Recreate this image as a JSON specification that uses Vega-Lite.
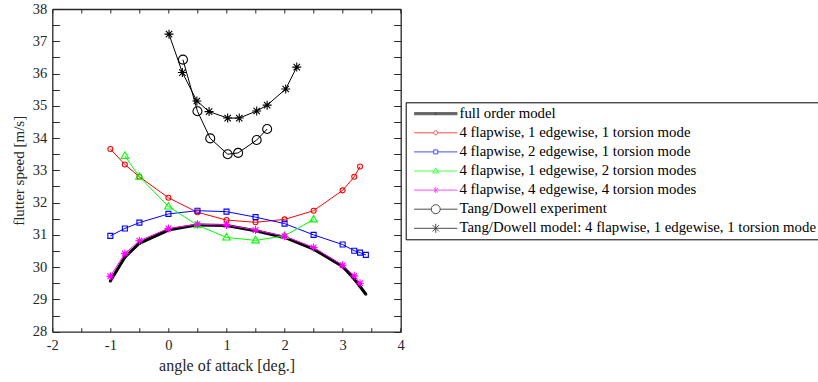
{
  "$schema": "https://vega.github.io/schema/vega-lite/v6.json",
  "width": 348.4,
  "height": 322.7,
  "autosize": {"type": "none"},
  "padding": {"left": 52.3, "top": 9, "right": 417.3, "bottom": 50.3},
  "data": {"values": [
    {"series": "full order model", "aoa": -1, "speed": 29.57},
    {"series": "full order model", "aoa": -0.75, "speed": 30.31},
    {"series": "full order model", "aoa": -0.5, "speed": 30.74},
    {"series": "full order model", "aoa": 0, "speed": 31.15},
    {"series": "full order model", "aoa": 0.5, "speed": 31.31},
    {"series": "full order model", "aoa": 1, "speed": 31.29},
    {"series": "full order model", "aoa": 1.5, "speed": 31.13},
    {"series": "full order model", "aoa": 2, "speed": 30.92},
    {"series": "full order model", "aoa": 2.5, "speed": 30.56},
    {"series": "full order model", "aoa": 3, "speed": 30.02},
    {"series": "full order model", "aoa": 3.2, "speed": 29.63},
    {"series": "full order model", "aoa": 3.3, "speed": 29.4},
    {"series": "full order model", "aoa": 3.4, "speed": 29.16},

    {"series": "4 flapwise, 1 edgewise, 1 torsion mode", "aoa": -1, "speed": 33.66},
    {"series": "4 flapwise, 1 edgewise, 1 torsion mode", "aoa": -0.75, "speed": 33.18},
    {"series": "4 flapwise, 1 edgewise, 1 torsion mode", "aoa": -0.5, "speed": 32.8},
    {"series": "4 flapwise, 1 edgewise, 1 torsion mode", "aoa": 0, "speed": 32.15},
    {"series": "4 flapwise, 1 edgewise, 1 torsion mode", "aoa": 0.5, "speed": 31.7},
    {"series": "4 flapwise, 1 edgewise, 1 torsion mode", "aoa": 1, "speed": 31.46},
    {"series": "4 flapwise, 1 edgewise, 1 torsion mode", "aoa": 1.5, "speed": 31.39},
    {"series": "4 flapwise, 1 edgewise, 1 torsion mode", "aoa": 2, "speed": 31.48},
    {"series": "4 flapwise, 1 edgewise, 1 torsion mode", "aoa": 2.5, "speed": 31.75},
    {"series": "4 flapwise, 1 edgewise, 1 torsion mode", "aoa": 3, "speed": 32.38},
    {"series": "4 flapwise, 1 edgewise, 1 torsion mode", "aoa": 3.2, "speed": 32.8},
    {"series": "4 flapwise, 1 edgewise, 1 torsion mode", "aoa": 3.3, "speed": 33.12},

    {"series": "4 flapwise, 2 edgewise, 1 torsion mode", "aoa": -1, "speed": 30.97},
    {"series": "4 flapwise, 2 edgewise, 1 torsion mode", "aoa": -0.75, "speed": 31.2},
    {"series": "4 flapwise, 2 edgewise, 1 torsion mode", "aoa": -0.5, "speed": 31.38},
    {"series": "4 flapwise, 2 edgewise, 1 torsion mode", "aoa": 0, "speed": 31.65},
    {"series": "4 flapwise, 2 edgewise, 1 torsion mode", "aoa": 0.5, "speed": 31.75},
    {"series": "4 flapwise, 2 edgewise, 1 torsion mode", "aoa": 1, "speed": 31.72},
    {"series": "4 flapwise, 2 edgewise, 1 torsion mode", "aoa": 1.5, "speed": 31.55},
    {"series": "4 flapwise, 2 edgewise, 1 torsion mode", "aoa": 2, "speed": 31.35},
    {"series": "4 flapwise, 2 edgewise, 1 torsion mode", "aoa": 2.5, "speed": 31.0},
    {"series": "4 flapwise, 2 edgewise, 1 torsion mode", "aoa": 3, "speed": 30.7},
    {"series": "4 flapwise, 2 edgewise, 1 torsion mode", "aoa": 3.2, "speed": 30.51},
    {"series": "4 flapwise, 2 edgewise, 1 torsion mode", "aoa": 3.3, "speed": 30.45},
    {"series": "4 flapwise, 2 edgewise, 1 torsion mode", "aoa": 3.4, "speed": 30.38},

    {"series": "4 flapwise, 1 edgewise, 2 torsion modes", "aoa": -0.75, "speed": 33.45},
    {"series": "4 flapwise, 1 edgewise, 2 torsion modes", "aoa": -0.5, "speed": 32.8},
    {"series": "4 flapwise, 1 edgewise, 2 torsion modes", "aoa": 0, "speed": 31.88},
    {"series": "4 flapwise, 1 edgewise, 2 torsion modes", "aoa": 0.5, "speed": 31.3},
    {"series": "4 flapwise, 1 edgewise, 2 torsion modes", "aoa": 1, "speed": 30.92},
    {"series": "4 flapwise, 1 edgewise, 2 torsion modes", "aoa": 1.5, "speed": 30.83},
    {"series": "4 flapwise, 1 edgewise, 2 torsion modes", "aoa": 2, "speed": 30.97},
    {"series": "4 flapwise, 1 edgewise, 2 torsion modes", "aoa": 2.5, "speed": 31.48},

    {"series": "4 flapwise, 4 edgewise, 4 torsion modes", "aoa": -1, "speed": 29.72},
    {"series": "4 flapwise, 4 edgewise, 4 torsion modes", "aoa": -0.75, "speed": 30.42},
    {"series": "4 flapwise, 4 edgewise, 4 torsion modes", "aoa": -0.5, "speed": 30.82},
    {"series": "4 flapwise, 4 edgewise, 4 torsion modes", "aoa": 0, "speed": 31.2},
    {"series": "4 flapwise, 4 edgewise, 4 torsion modes", "aoa": 0.5, "speed": 31.33},
    {"series": "4 flapwise, 4 edgewise, 4 torsion modes", "aoa": 1, "speed": 31.31},
    {"series": "4 flapwise, 4 edgewise, 4 torsion modes", "aoa": 1.5, "speed": 31.15},
    {"series": "4 flapwise, 4 edgewise, 4 torsion modes", "aoa": 2, "speed": 30.96},
    {"series": "4 flapwise, 4 edgewise, 4 torsion modes", "aoa": 2.5, "speed": 30.61},
    {"series": "4 flapwise, 4 edgewise, 4 torsion modes", "aoa": 3, "speed": 30.06},
    {"series": "4 flapwise, 4 edgewise, 4 torsion modes", "aoa": 3.2, "speed": 29.73},
    {"series": "4 flapwise, 4 edgewise, 4 torsion modes", "aoa": 3.3, "speed": 29.5},

    {"series": "Tang/Dowell experiment", "aoa": 0.25, "speed": 36.43},
    {"series": "Tang/Dowell experiment", "aoa": 0.5, "speed": 34.83},
    {"series": "Tang/Dowell experiment", "aoa": 0.72, "speed": 33.99},
    {"series": "Tang/Dowell experiment", "aoa": 1.02, "speed": 33.5},
    {"series": "Tang/Dowell experiment", "aoa": 1.2, "speed": 33.54},
    {"series": "Tang/Dowell experiment", "aoa": 1.52, "speed": 33.94},
    {"series": "Tang/Dowell experiment", "aoa": 1.7, "speed": 34.28},

    {"series": "Tang/Dowell model: 4 flapwise, 1 edgewise, 1 torsion mode", "aoa": 0.01, "speed": 37.22},
    {"series": "Tang/Dowell model: 4 flapwise, 1 edgewise, 1 torsion mode", "aoa": 0.24, "speed": 36.03},
    {"series": "Tang/Dowell model: 4 flapwise, 1 edgewise, 1 torsion mode", "aoa": 0.49, "speed": 35.15},
    {"series": "Tang/Dowell model: 4 flapwise, 1 edgewise, 1 torsion mode", "aoa": 0.7, "speed": 34.82},
    {"series": "Tang/Dowell model: 4 flapwise, 1 edgewise, 1 torsion mode", "aoa": 1.02, "speed": 34.62},
    {"series": "Tang/Dowell model: 4 flapwise, 1 edgewise, 1 torsion mode", "aoa": 1.22, "speed": 34.62},
    {"series": "Tang/Dowell model: 4 flapwise, 1 edgewise, 1 torsion mode", "aoa": 1.52, "speed": 34.84},
    {"series": "Tang/Dowell model: 4 flapwise, 1 edgewise, 1 torsion mode", "aoa": 1.7, "speed": 35.02},
    {"series": "Tang/Dowell model: 4 flapwise, 1 edgewise, 1 torsion mode", "aoa": 2.02, "speed": 35.52},
    {"series": "Tang/Dowell model: 4 flapwise, 1 edgewise, 1 torsion mode", "aoa": 2.21, "speed": 36.2}
  ]},
  "layer": [
    {
      "transform": [{"filter": "datum.series === 'full order model'"}],
      "mark": {"type": "line", "color": "black", "strokeWidth": 3},
      "encoding": {
        "x": {"field": "aoa", "type": "quantitative",
          "scale": {"domain": [-2, 4], "nice": false, "zero": false},
          "axis": {"orient": "bottom", "values": [-2,-1.5,-1,-0.5,0,0.5,1,1.5,2,2.5,3,3.5,4],
            "labelExpr": "datum.value % 1 === 0 ? '' + datum.value : ''",
            "tickSize": -4, "labelPadding": 11, "title": "angle of attack [deg.]", "titleFontSize": 16, "titlePadding": 5}},
        "y": {"field": "speed", "type": "quantitative",
          "scale": {"domain": [28, 38], "nice": false, "zero": false},
          "axis": {"orient": "left", "values": [28,28.5,29,29.5,30,30.5,31,31.5,32,32.5,33,33.5,34,34.5,35,35.5,36,36.5,37,37.5,38],
            "labelExpr": "datum.value % 1 === 0 ? '' + datum.value : ''",
            "tickSize": -7, "labelPadding": 12.6, "title": "flutter speed [m/s]", "titleFontSize": 15, "titlePadding": 6}}
      }
    },
    {
      "transform": [{"filter": "datum.series !== 'full order model'"}],
      "mark": {"type": "line", "strokeWidth": 1},
      "encoding": {
        "x": {"field": "aoa", "type": "quantitative", "scale": {"domain": [-2, 4], "nice": false, "zero": false}, "axis": null},
        "y": {"field": "speed", "type": "quantitative", "scale": {"domain": [28, 38], "nice": false, "zero": false}, "axis": null},
        "color": {"field": "series", "type": "nominal", "legend": null,
          "scale": {"domain": ["full order model", "4 flapwise, 1 edgewise, 1 torsion mode", "4 flapwise, 2 edgewise, 1 torsion mode", "4 flapwise, 1 edgewise, 2 torsion modes", "4 flapwise, 4 edgewise, 4 torsion modes", "Tang/Dowell experiment", "Tang/Dowell model: 4 flapwise, 1 edgewise, 1 torsion mode"],
            "range": ["#000000", "#ff0000", "#0000ff", "#00ff00", "#ff00ff", "#000000", "#000000"]}}
      }
    },
    {
      "mark": {"type": "point", "filled": false, "size": 100, "strokeWidth": 1.1, "opacity": 1},
      "encoding": {
        "x": {"field": "aoa", "type": "quantitative", "scale": {"domain": [-2, 4], "nice": false, "zero": false}, "axis": null},
        "y": {"field": "speed", "type": "quantitative", "scale": {"domain": [28, 38], "nice": false, "zero": false}, "axis": null},
        "color": {"field": "series", "type": "nominal", "legend": null,
          "scale": {"domain": ["full order model", "4 flapwise, 1 edgewise, 1 torsion mode", "4 flapwise, 2 edgewise, 1 torsion mode", "4 flapwise, 1 edgewise, 2 torsion modes", "4 flapwise, 4 edgewise, 4 torsion modes", "Tang/Dowell experiment", "Tang/Dowell model: 4 flapwise, 1 edgewise, 1 torsion mode"],
            "range": ["#000000", "#ff0000", "#0000ff", "#00ff00", "#ff00ff", "#000000", "#000000"]}},
        "shape": {"field": "series", "type": "nominal", "legend": null,
          "scale": {"domain": ["full order model", "4 flapwise, 1 edgewise, 1 torsion mode", "4 flapwise, 2 edgewise, 1 torsion mode", "4 flapwise, 1 edgewise, 2 torsion modes", "4 flapwise, 4 edgewise, 4 torsion modes", "Tang/Dowell experiment", "Tang/Dowell model: 4 flapwise, 1 edgewise, 1 torsion mode"],
            "range": [
              "M-0.2,0a0.2,0.2 0 1,0 0.4,0a0.2,0.2 0 1,0 -0.4,0",
              "M-0.5,0a0.5,0.5 0 1,0 1,0a0.5,0.5 0 1,0 -1,0",
              "M-0.5,-0.5H0.5V0.5H-0.5Z",
              "M0,-0.8L0.75,0.5H-0.75Z",
              "M-0.8,0H0.8M0,-0.8V0.8M-0.57,-0.57L0.57,0.57M-0.57,0.57L0.57,-0.57M-0.4,-0.2H0.4M-0.4,0.2H0.4",
              "M-0.9,0a0.9,0.9 0 1,0 1.8,0a0.9,0.9 0 1,0 -1.8,0",
              "M-0.9,0H0.9M0,-0.9V0.9M-0.64,-0.64L0.64,0.64M-0.64,0.64L0.64,-0.64"
            ]}}
      }
    },
    {
      "transform": [{"filter": "false"}],
      "mark": {"type": "point", "filled": false, "size": 100, "strokeWidth": 1},
      "encoding": {
        "x": {"field": "aoa", "type": "quantitative", "scale": {"domain": [-2, 4], "nice": false, "zero": false},
          "axis": {"orient": "top", "values": [-2,-1.5,-1,-0.5,0,0.5,1,1.5,2,2.5,3,3.5,4], "labels": false, "title": null, "tickSize": -4}},
        "y": {"field": "speed", "type": "quantitative", "scale": {"domain": [28, 38], "nice": false, "zero": false},
          "axis": {"orient": "right", "values": [28,28.5,29,29.5,30,30.5,31,31.5,32,32.5,33,33.5,34,34.5,35,35.5,36,36.5,37,37.5,38], "labels": false, "title": null, "tickSize": -7}},
        "color": {"field": "series", "type": "nominal",
          "scale": {"domain": ["full order model", "4 flapwise, 1 edgewise, 1 torsion mode", "4 flapwise, 2 edgewise, 1 torsion mode", "4 flapwise, 1 edgewise, 2 torsion modes", "4 flapwise, 4 edgewise, 4 torsion modes", "Tang/Dowell experiment", "Tang/Dowell model: 4 flapwise, 1 edgewise, 1 torsion mode"],
            "range": ["#000000", "#ff0000", "#0000ff", "#00ff00", "#ff00ff", "#000000", "#000000"]},
          "legend": {"orient": "none", "legendX": 353.4, "legendY": 93.3, "title": null, "padding": 4, "symbolSize": 100, "symbolStrokeWidth": 1, "rowPadding": 3.1, "labelOffset": 35, "labelLimit": 600, "strokeColor": "black", "fillColor": "white"}},
        "shape": {"field": "series", "type": "nominal",
          "scale": {"domain": ["full order model", "4 flapwise, 1 edgewise, 1 torsion mode", "4 flapwise, 2 edgewise, 1 torsion mode", "4 flapwise, 1 edgewise, 2 torsion modes", "4 flapwise, 4 edgewise, 4 torsion modes", "Tang/Dowell experiment", "Tang/Dowell model: 4 flapwise, 1 edgewise, 1 torsion mode"],
            "range": [
              "M-0.6,-0.2H8.06M-0.6,0H8.06M-0.6,0.2H8.06M3.53,0a0.2,0.2 0 1,0 0.4,0a0.2,0.2 0 1,0 -0.4,0",
              "M-0.6,0H3.33M4.13,0H8.06M3.33,0a0.4,0.4 0 1,0 0.8,0a0.4,0.4 0 1,0 -0.8,0",
              "M-0.6,0H3.33M4.13,0H8.06M3.33,-0.4H4.13V0.4H3.33Z",
              "M-0.6,0H8.06M3.73,-0.6L4.33,0.4H3.13Z",
              "M-0.6,0H8.06M3.73,-0.6V0.6M3.31,-0.42L4.15,0.42M3.31,0.42L4.15,-0.42",
              "M-0.6,0H2.83M4.63,0H8.06M2.83,0a0.9,0.9 0 1,0 1.8,0a0.9,0.9 0 1,0 -1.8,0",
              "M-0.6,0H8.06M3.73,-0.9V0.9M3.09,-0.64L4.37,0.64M3.09,0.64L4.37,-0.64"
            ]},
          "legend": {"orient": "none", "legendX": 353.4, "legendY": 93.3, "title": null, "padding": 4, "symbolSize": 100, "symbolStrokeWidth": 1, "rowPadding": 3.1, "labelOffset": 35, "labelLimit": 600, "strokeColor": "black", "fillColor": "white"}}
      }
    }
  ],
  "resolve": {
    "scale": {"color": "independent", "shape": "independent"},
    "axis": {"x": "independent", "y": "independent"}
  },
  "config": {
    "view": {"stroke": null},
    "font": "Liberation Serif",
    "axis": {
      "grid": false,
      "labelFont": "Liberation Serif", "labelFontSize": 14.5, "labelColor": "#262626",
      "titleFont": "Liberation Serif", "titleFontSize": 15, "titleFontWeight": "normal", "titleColor": "#262626",
      "domainColor": "#262626", "domainWidth": 1.3, "tickColor": "#262626", "tickWidth": 1,
      "labelFlush": false, "labelOverlap": false
    },
    "legend": {
      "labelFont": "Liberation Serif", "labelFontSize": 14.8, "labelColor": "black"
    }
  }
}
